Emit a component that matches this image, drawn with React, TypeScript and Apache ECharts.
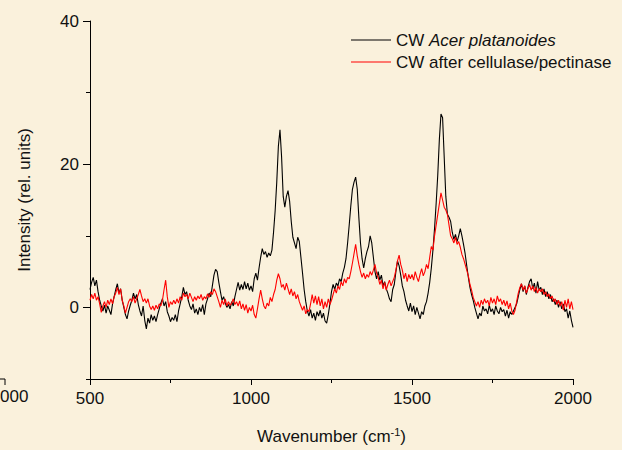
import React, { useEffect, useRef } from "react";
import * as echarts from "echarts";

// Wavenumber grid: 500 .. 2000 cm^-1 in steps of 5
const WN_START = 500;
const WN_STEP = 5;

const blackName = "CW Acer platanoides";
const redName = "CW after cellulase/pectinase";

// CW Acer platanoides (black)
const blackValues = [
  2.5, 3.5, 4.2, 3.0, 3.8, 2.2, 1.0, 0.2, -0.5, 0.3, -0.8, 0.2, -0.4, -1.0, 0.5, 1.5, 2.5, 3.3, 2.0, 2.6,
  1.0, 0.0, -1.0, -1.6, -0.5, 0.3, 1.0, 2.0, 1.2, 1.8, 0.4, -0.5, -1.2, 0.2, -1.8, -3.0, -1.5, -2.2, -1.0, -1.8,
  -1.2, -2.0, -1.0, -0.2, 0.6, 1.2, 0.2, 0.8, -0.6, -1.2, -2.0, -1.4, -1.8, -1.0, -2.0, -0.5, 0.5, 1.5, 2.8, 1.8,
  2.2, 1.0, 0.2, -0.3, 0.5, -0.8, -0.2, -1.0, 0.0, -0.6, 0.4, -1.0, 0.5, 1.2, 2.0, 1.5, 3.0, 4.5, 5.3, 5.0,
  3.5, 2.2, 1.0, 1.5, 0.6, 0.0, 0.4, -0.2, 0.8, 0.2, 1.5, 2.5, 3.5, 2.4, 3.2, 2.5, 3.6, 2.6, 3.4, 2.4,
  3.0, 2.2, 4.0, 4.8, 3.8, 5.5, 7.0, 8.2, 7.4, 7.8, 7.0, 7.6, 7.2, 8.0, 10.5, 13.5, 17.5, 22.5, 24.8, 21.0,
  15.5, 14.0, 15.5, 16.3, 14.8, 12.0, 9.8, 9.0, 8.2, 9.8, 9.2, 7.0, 4.8, 2.5, 0.8, -0.5, -1.2, -0.3, -1.5, -0.8,
  -1.8, -0.6, -1.2, -0.4, -1.5, -0.8, -1.9, -2.2, -1.0, 0.5, 2.2, 3.2, 2.5, 3.4, 3.0, 4.0, 3.6, 4.8, 5.6, 6.8,
  9.0, 11.5, 14.2, 16.5, 17.5, 18.2, 16.5, 12.5, 9.0, 6.8, 5.5, 6.8, 7.8, 8.5, 10.0, 9.0, 7.0, 5.0, 4.0, 5.0,
  3.8, 4.5, 3.0, 3.6, 2.6, 2.0, 1.2, 0.8, 2.5, 3.2, 5.0, 6.5, 5.8, 4.5, 3.0, 2.2, 1.0, 0.2, -0.5, 0.6,
  -0.6, 0.2, -1.0, 0.0, -0.8, -1.6, -0.6, -1.0, 0.2, 0.8, 2.0, 3.5, 5.5, 8.0, 11.0, 14.5, 18.5, 23.5, 27.0, 26.5,
  21.0, 15.5, 13.0, 12.6, 12.0, 10.5, 9.5, 10.2, 9.2, 10.0, 11.0, 10.0, 8.8, 7.5, 5.8, 4.2, 2.8, 1.8, 1.0, 0.0,
  -0.8, -1.6, -0.8, -1.2, 0.2, -0.5, -0.2, -0.9, 0.3, -0.6, -0.2, -1.0, 0.2, -0.5, -0.9, 0.0, -0.6, -0.3, -1.2, -0.4,
  -1.5, -0.6, -1.0, -0.5, 0.0, 0.5, 1.5, 2.5, 3.3, 2.2, 3.0, 1.8, 2.8, 3.6, 4.0, 2.6, 3.4, 2.0, 3.6, 2.4,
  2.8, 1.8, 2.6, 1.5, 2.2, 1.2, 1.8, 0.8, 1.2, 0.4, 1.0, 0.0, 0.8, -0.2, 0.5, -0.6, -0.2, -1.5, -0.5, -1.8,
  -2.8,
];

// CW after cellulase/pectinase (red)
const redValues = [
  1.0, 1.8, 1.2, 2.0, 1.0, 1.5, 0.5, -0.7, 0.2, 0.8, 0.0, 1.0, 0.4, 1.2, 0.5, 1.5, 2.0, 2.8, 1.8, 2.6,
  1.0, 0.2, -0.8, 0.0, 0.8, 1.2, 0.8, 1.5, 0.6, 1.2, 1.8, 2.5, 1.6, 0.8, 1.2, 0.6, 1.2, 0.2, -0.3, 0.2,
  -0.4, 0.3, -0.2, 0.5, 0.2, 1.0, 2.5, 3.8, 1.5, 0.0, 0.8, 0.4, 1.0, 0.5, 1.2, 0.6, 1.5, 1.0, 2.0, 1.5,
  1.8, 1.2, 2.0, 1.4, 0.8, 1.5, 1.0, 1.6, 1.2, 1.8, 1.0, 1.5, 1.2, 1.9, 1.4, 2.2, 1.8, 2.6, 2.2, 1.5,
  0.8, 0.0, 1.0, 0.4, 1.2, 0.2, 0.8, 0.3, 0.6, 1.2, 0.4, 0.8, 0.2, 0.9, -0.2, 0.5, -0.4, 0.4, -0.8, 0.0,
  -0.5, 0.3, -1.0, -1.5, -0.2, 1.2, 2.4, 1.2, 0.2, -0.2, 0.6, 0.2, 1.4, 0.8, 1.8, 2.5, 3.8, 4.7, 4.0, 2.8,
  3.2, 2.4, 3.4, 2.6, 1.8, 2.6, 1.6, 2.2, 1.2, 1.8, 0.8, 0.2, -0.4, 0.2, -0.9, -0.3, -0.6, 0.5, 1.8, 0.6,
  1.6, 0.4, 1.5, 0.2, 1.2, -0.2, 0.8, 0.0, 1.2, 0.4, 1.0, 1.8, 2.6, 2.0, 3.0, 2.5, 3.6, 3.0, 4.0, 3.4,
  4.2, 4.0, 5.0, 6.2, 7.5, 8.8, 7.2, 6.0, 5.0, 4.2, 4.8, 4.0, 4.6, 4.2, 5.0, 4.5, 5.2, 6.0, 4.8, 4.2,
  3.2, 3.8, 2.6, 3.5, 2.4, 3.2, 3.8, 3.0, 3.6, 4.2, 5.2, 6.5, 7.3, 6.0, 5.2, 4.0, 4.8, 3.6, 4.6, 4.0,
  4.6, 3.8, 5.0, 4.2, 3.6, 4.6, 5.4, 4.4, 5.0, 6.0, 5.4, 7.0, 8.5, 8.0, 10.0, 11.5, 13.0, 14.5, 16.0, 15.0,
  14.0, 13.6, 13.0, 11.5, 10.0, 9.6, 9.0, 9.8, 8.8, 9.2, 8.4, 7.4, 6.8, 6.0, 5.2, 4.4, 3.2, 2.4, 1.4, 0.8,
  0.2, 0.8, 0.0, 1.0, 0.4, 1.2, 0.6, 1.0, 0.2, 1.4, 0.6, 1.2, 0.4, 1.6, 0.8, 1.2, 0.4, 1.0, 0.2, 0.9,
  -0.2, 0.6, -0.5, -1.0, -0.4, 0.8, 2.0, 2.8, 3.3, 2.4, 3.0, 2.0, 2.6, 3.2, 2.4, 3.0, 2.2, 2.8, 2.0, 2.6,
  2.2, 2.6, 1.8, 2.2, 1.5, 1.9, 1.2, 1.6, 0.8, 1.2, 0.4, 1.0, 0.2, 0.8, -0.4, 1.0, 0.0, 1.2, -0.2, 0.8,
  -0.3,
];

const xMin = 500;
const xMax = 2000;
const yMin = -10;
const yMax = 40;

const FONT = "'Liberation Sans', Arial, Helvetica, sans-serif";
const BG = "#faf1dc";

const toPairs = (vals: number[]) => vals.map((v, i) => [WN_START + i * WN_STEP, v]);

export default function App() {
  const ref = useRef<HTMLDivElement>(null);

  useEffect(() => {
    document.body.style.margin = "0";
    document.body.style.background = BG;
    if (!ref.current) return;
    const chart = echarts.init(ref.current, undefined, { renderer: "svg" });

    const gridPos = { left: 90, right: 49 };

    chart.setOption({
      animation: false,
      backgroundColor: BG,
      textStyle: { fontFamily: FONT },
      grid: [
        { ...gridPos, top: 21, bottom: 71, containLabel: false },
        // helper grid spanning 0..40 for the long (labelled) y ticks
        { ...gridPos, top: 21, height: 286, containLabel: false },
      ],
      legend: {
        orient: "vertical",
        left: 346,
        top: 24,
        itemWidth: 40,
        itemHeight: 1.2,
        itemGap: 0,
        icon: "rect",
        selectedMode: false,
        textStyle: {
          fontFamily: FONT,
          fontSize: 17,
          color: "#111",
          lineHeight: 22,
          rich: {
            i: { fontFamily: FONT, fontSize: 17, fontStyle: "italic", color: "#111", lineHeight: 22 },
          },
        },
        formatter: (name: string) =>
          name === blackName ? "CW {i|Acer platanoides}" : name,
        data: [blackName, redName],
      },
      xAxis: [
        {
          type: "value",
          gridIndex: 0,
          min: xMin,
          max: xMax,
          interval: 500,
          name: "Wavenumber (cm{sup|-1})",
          nameLocation: "middle",
          nameGap: 47,
          nameTextStyle: {
            fontFamily: FONT,
            fontSize: 17,
            color: "#111",
            rich: {
              sup: { fontFamily: FONT, fontSize: 11, verticalAlign: "top", padding: [0, 0, 10, 0], color: "#111" },
            },
          },
          axisLine: { show: true, onZero: false, lineStyle: { color: "#000", width: 1 } },
          axisTick: { show: true, length: 6, lineStyle: { color: "#000", width: 1 } },
          minorTick: { show: true, splitNumber: 2, length: 4, lineStyle: { color: "#000", width: 1 } },
          splitLine: { show: false },
          minorSplitLine: { show: false },
          axisLabel: {
            fontFamily: FONT,
            fontSize: 17,
            color: "#111",
            margin: 11,
            formatter: (v: number) => String(v),
          },
        },
        {
          type: "value",
          gridIndex: 1,
          min: xMin,
          max: xMax,
          show: false,
        },
      ],
      yAxis: [
        {
          type: "value",
          gridIndex: 0,
          min: yMin,
          max: yMax,
          interval: 10,
          name: "Intensity (rel. units)",
          nameLocation: "middle",
          nameGap: 57,
          nameTextStyle: { fontFamily: FONT, fontSize: 17, color: "#111" },
          axisLine: { show: true, onZero: false, lineStyle: { color: "#000", width: 1 } },
          axisTick: { show: true, length: 4, lineStyle: { color: "#000", width: 1 } },
          axisLabel: { show: false },
          splitLine: { show: false },
        },
        {
          type: "value",
          gridIndex: 1,
          min: 0,
          max: yMax,
          interval: 20,
          axisLine: { show: false },
          axisTick: { show: true, length: 7, lineStyle: { color: "#000", width: 1 } },
          axisLabel: {
            fontFamily: FONT,
            fontSize: 17,
            color: "#111",
            margin: 11,
            formatter: (v: number) => String(v),
          },
          splitLine: { show: false },
        },
      ],
      series: [
        {
          name: blackName,
          type: "line",
          xAxisIndex: 0,
          yAxisIndex: 0,
          data: toPairs(blackValues),
          showSymbol: false,
          symbol: "none",
          lineStyle: { color: "#000000", width: 1.1 },
          itemStyle: { color: "#000000" },
        },
        {
          name: redName,
          type: "line",
          xAxisIndex: 0,
          yAxisIndex: 0,
          data: toPairs(redValues),
          showSymbol: false,
          symbol: "none",
          lineStyle: { color: "#ff0000", width: 1.1 },
          itemStyle: { color: "#ff0000" },
        },
      ],
      graphic: [
        // fragment of the neighbouring panel on the left
        {
          type: "line",
          shape: { x1: 0, y1: 379, x2: 5, y2: 379 },
          style: { stroke: "#000", lineWidth: 1 },
        },
        {
          type: "line",
          shape: { x1: 5, y1: 379, x2: 5, y2: 385 },
          style: { stroke: "#000", lineWidth: 1 },
        },
        {
          type: "text",
          left: 0,
          top: 388,
          style: { text: "000", fontFamily: FONT, fontSize: 17, fill: "#111" },
        },
      ],
    });

    return () => chart.dispose();
  }, []);

  return <div ref={ref} style={{ width: 622, height: 450 }} />;
}
